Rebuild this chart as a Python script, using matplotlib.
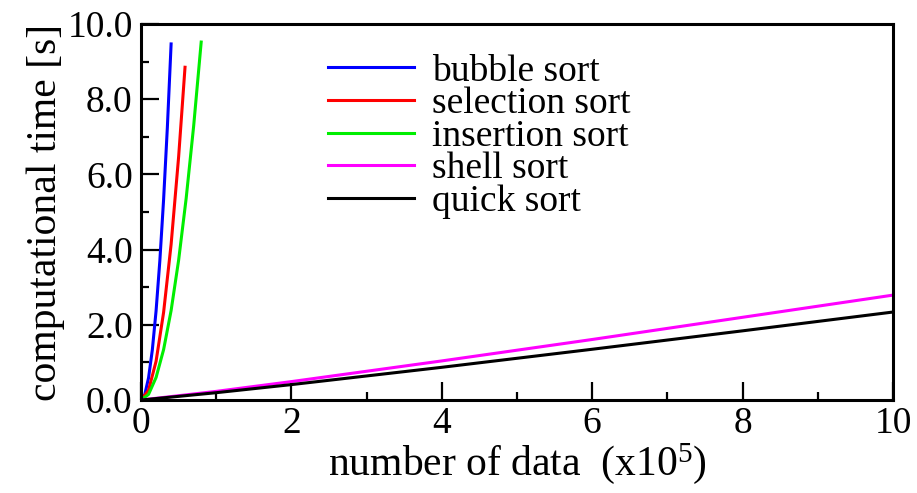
import matplotlib
matplotlib.use("Agg")
import matplotlib.pyplot as plt
from matplotlib.ticker import MultipleLocator, FormatStrFormatter

plt.rcParams['font.family'] = ['Liberation Serif', 'DejaVu Serif']
plt.rcParams['mathtext.fontset'] = 'custom'
plt.rcParams['mathtext.rm'] = 'Liberation Serif'
plt.rcParams['mathtext.default'] = 'regular'

# data (x in units of 1e5 items, y in seconds)
bubble_x = [0, 0.05, 0.1, 0.15, 0.2, 0.25, 0.3, 0.35, 0.4]
bubble_y = [0, 0.15, 0.59, 1.33, 2.37, 3.70, 5.33, 7.25, 9.47]

selection_x = [0, 0.1, 0.2, 0.3, 0.4, 0.5, 0.585]
selection_y = [0, 0.26, 1.03, 2.33, 4.14, 6.47, 8.85]

insertion_x = [0, 0.1, 0.2, 0.3, 0.4, 0.5, 0.6, 0.7, 0.8]
insertion_y = [0, 0.15, 0.60, 1.34, 2.38, 3.72, 5.36, 7.29, 9.52]

shell_x = [0, 1, 2, 4, 6, 8, 10]
shell_y = [0, 0.23, 0.49, 1.04, 1.61, 2.20, 2.79]

quick_x = [0, 1, 2, 4, 6, 8, 10]
quick_y = [0, 0.195, 0.41, 0.87, 1.35, 1.84, 2.34]

fig = plt.figure(figsize=(9.17, 4.93), dpi=100)
ax = fig.add_axes([0.1538, 0.1886, 0.82, 0.7627])

lw = 2.2
ax.plot(bubble_x, bubble_y, color='#0000ff', lw=lw, label='bubble sort')
ax.plot(selection_x, selection_y, color='#ff0000', lw=lw, label='selection sort')
ax.plot(insertion_x, insertion_y, color='#00ee00', lw=lw, label='insertion sort')
ax.plot(shell_x, shell_y, color='#ff00ff', lw=lw, label='shell sort')
ax.plot(quick_x, quick_y, color='black', lw=lw, label='quick sort')

ax.set_xlim(0, 10)
ax.set_ylim(0, 10)
ax.xaxis.set_major_locator(MultipleLocator(2))
ax.xaxis.set_minor_locator(MultipleLocator(1))
ax.yaxis.set_major_locator(MultipleLocator(2))
ax.yaxis.set_minor_locator(MultipleLocator(1))
ax.yaxis.set_major_formatter(FormatStrFormatter('%.1f'))

for s in ax.spines.values():
    s.set_linewidth(2.2)
ax.tick_params(which='major', direction='in', length=13, width=1.6,
               labelsize=27, top=False, right=False)
ax.tick_params(which='minor', direction='in', length=5.5, width=1.6,
               top=False, right=False)
ax.tick_params(axis='y', pad=6)
ax.tick_params(axis='x', pad=5)

ax.set_xlabel('number of data  (x10$^{5}$)', fontsize=30, labelpad=0)
ax.set_ylabel('computational time [s]', fontsize=30, labelpad=2)

ax.legend(loc='upper left', bbox_to_anchor=(0.229, 0.96), frameon=False,
          fontsize=27, handlelength=2.3, handletextpad=0.48,
          labelspacing=-0.05, borderaxespad=0)

fig.savefig('out.png', dpi=100)
